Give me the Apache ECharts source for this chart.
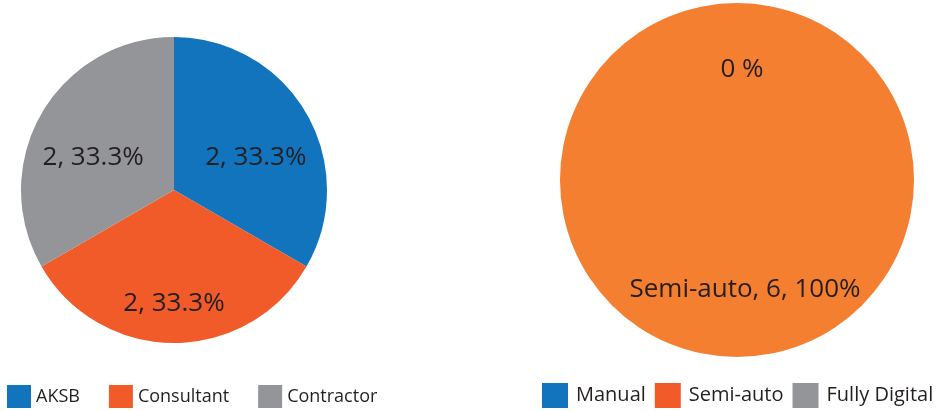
<!DOCTYPE html>
<html>
<head>
<meta charset="utf-8">
<script src="https://cdn.jsdelivr.net/npm/echarts@6/dist/echarts.min.js"></script>
<style>
html,body{margin:0;padding:0;background:#fff;}
#chart{width:945px;height:411px;}
</style>
</head>
<body>
<div id="chart"></div>
<script>
// Left pie: stakeholder
const leftCategories = ['AKSB', 'Consultant', 'Contractor'];
const leftValues = [2, 2, 2];
const leftColors = ['#1174BD', '#F15A29', '#939598'];

// Right pie: level of automation
const rightCategories = ['Manual', 'Semi-auto', 'Fully Digital'];
const rightValues = [0, 6, 0];
const rightColors = ['#1174BD', '#F47F31', '#939598'];
const rightLegendColors = ['#1174BD', '#F15A29', '#939598'];

const FONT = '"Open Sans", "Noto Sans", sans-serif';
const TXT = '#231F20';

const leftOffsets = [[13, 7], [0, 34], [-12, 7]];
const rightOffsets = [[5, -19], [8, 18], [5, -19]];

const sum = arr => arr.reduce((a, b) => a + b, 0);
const pct = (v, arr) => (v / sum(arr) * 100).toFixed(1).replace(/\.0$/, '');

const chart = echarts.init(document.getElementById('chart'), null, {renderer: 'canvas'});

const leftData = leftCategories.map((n, i) => ({
  name: n, value: leftValues[i],
  itemStyle: {color: leftColors[i]},
  label: {offset: leftOffsets[i]}
}));
const rightData = rightCategories.map((n, i) => ({
  name: n, value: rightValues[i],
  itemStyle: {color: rightColors[i]},
  label: {offset: rightOffsets[i], show: i !== 2}
}));

chart.setOption({
  animation: false,
  backgroundColor: '#ffffff',
  textStyle: {fontFamily: FONT},
  legend: [
    {
      data: leftCategories.map((n, i) => ({name: n, itemStyle: {color: leftColors[i]}})),
      left: 7, top: 385, padding: 0,
      itemWidth: 24, itemHeight: 23, itemGap: 29,
      icon: 'rect',
      selectedMode: false,
      textStyle: {fontFamily: FONT, fontSize: 18, color: TXT}
    },
    {
      data: rightCategories.map((n, i) => ({name: n, itemStyle: {color: rightLegendColors[i]}})),
      left: 542, top: 383, padding: 0,
      itemWidth: 26, itemHeight: 25, itemGap: 9,
      icon: 'rect',
      selectedMode: false,
      textStyle: {fontFamily: FONT, fontSize: 20, color: TXT, padding: [0, 0, 0, 3]}
    }
  ],
  series: [
    {
      type: 'pie',
      center: [174, 190],
      radius: [0, 153],
      startAngle: 90,
      clockwise: true,
      avoidLabelOverlap: false,
      label: {
        show: true, position: 'inside',
        formatter: p => p.value + ', ' + pct(p.value, leftValues) + '%',
        fontFamily: FONT, fontSize: 26, color: TXT
      },
      labelLine: {show: false},
      itemStyle: {borderWidth: 0},
      emphasis: {disabled: true},
      data: leftData
    },
    {
      type: 'pie',
      center: [737, 180],
      radius: [0, 177],
      startAngle: 90,
      clockwise: true,
      avoidLabelOverlap: false,
      stillShowZeroSum: true,
      label: {
        show: true, position: 'inside',
        formatter: p => p.value === 0 ? pct(p.value, rightValues) + ' %' : p.name + ', ' + p.value + ', ' + pct(p.value, rightValues) + '%',
        fontFamily: FONT, fontSize: 26, color: TXT
      },
      labelLine: {show: false},
      itemStyle: {borderWidth: 0},
      emphasis: {disabled: true},
      data: rightData
    }
  ]
});
</script>
</body>
</html>
